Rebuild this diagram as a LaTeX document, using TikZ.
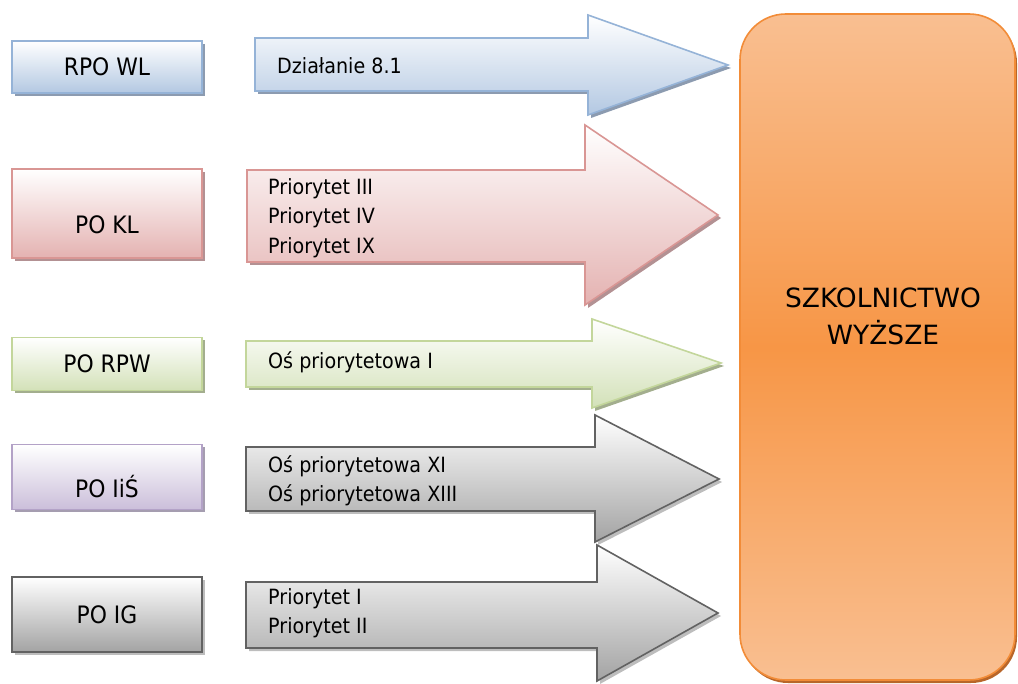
\documentclass[tikz,border=0pt]{standalone}
\usepackage{fontspec}
\setmainfont{DejaVu Sans}
\newfontfamily\tahoma{DejaVu Sans}[FakeStretch=0.91]
\usetikzlibrary{shadows}

\definecolor{blueline}{HTML}{95B3D7}
\definecolor{bluefill}{HTML}{B3C8E2}
\definecolor{blueshade}{HTML}{8C9BB0}
\definecolor{redline}{HTML}{D99694}
\definecolor{redfill}{HTML}{E4B2B1}
\definecolor{redshade}{HTML}{B39193}
\definecolor{greenline}{HTML}{C3D69B}
\definecolor{greenfill}{HTML}{D3E1B8}
\definecolor{greenshade}{HTML}{A3AE8E}
\definecolor{violetline}{HTML}{B3A2C7}
\definecolor{violetfill}{HTML}{CBBFDA}
\definecolor{violetshade}{HTML}{A59DB0}
\definecolor{grayline}{HTML}{626262}
\definecolor{grayfill}{HTML}{A3A3A3}
\definecolor{grayshade}{HTML}{BDBDBD}
\definecolor{orangeline}{HTML}{F28C38}
\definecolor{orangelight}{HTML}{F9BF91}
\definecolor{orangemid}{HTML}{F79646}
\definecolor{orangeshade}{HTML}{B8662A}

\begin{document}
\begin{tikzpicture}[x=1pt, y=-1pt,
        prog/.style={draw, line width=1.6pt, minimum width=190pt, inner sep=0pt, top color=white,
            font=\tahoma\fontsize{24}{28}\selectfont},
        low/.style={text height=40pt, text depth=0pt},
        flow/.style={line width=1.6pt, line join=miter},
        item/.style={anchor=west, align=left, inner sep=0pt, font=\tahoma\fontsize{21}{29.5}\selectfont},
        blue/.style={draw=blueline, bottom color=bluefill, top color=white,
            drop shadow={shadow xshift=3pt, shadow yshift=-3pt, fill=blueshade, opacity=1}},
        red/.style={draw=redline, bottom color=redfill, top color=white,
            drop shadow={shadow xshift=3pt, shadow yshift=-3pt, fill=redshade, opacity=1}},
        green/.style={draw=greenline, bottom color=greenfill, top color=white,
            drop shadow={shadow xshift=3pt, shadow yshift=-3pt, fill=greenshade, opacity=1}},
        violet/.style={draw=violetline, bottom color=violetfill, top color=white,
            drop shadow={shadow xshift=3pt, shadow yshift=-3pt, fill=violetshade, opacity=1}},
        grey/.style={draw=grayline, bottom color=grayfill, top color=white,
            drop shadow={shadow xshift=3pt, shadow yshift=-3pt, fill=grayshade, opacity=1}},
        target/.style={draw=orangeline, line width=1.6pt, rounded corners=46pt, minimum width=275pt, minimum height=666pt,
            top color=orangelight, bottom color=orangelight, middle color=orangemid,
            drop shadow={shadow xshift=2pt, shadow yshift=-3pt, fill=orangeshade, opacity=1}}
    ]
        \useasboundingbox (0,0) rectangle (1018,684);

        % Target (Absolute positioning)
        \node[target] (szk) at (877.5, 347) {};
        \node[font=\fontsize{26.5}{37}\selectfont, align=center] (szktext) at (883, 316) {SZKOLNICTWO\\WYŻSZE};

        % Programmes (Absolute positioning)
        \node[prog, blue, minimum height=52pt] (rpowl) at (107, 67) {RPO WL};
        \node[prog, red, low, minimum height=89pt] (pokl) at (107, 213.5) {PO KL};
        \node[prog, green, minimum height=53pt] (porpw) at (107, 364) {PO RPW};
        \node[prog, violet, low, minimum height=65pt] (poiis) at (107, 477) {PO IiŚ};
        \node[prog, grey, minimum height=75pt] (poig) at (107, 614.5) {PO IG};

        % Block arrows
        \draw[flow, blue] (255,38) -- (588,38) -- (588,15) -- (728,65) -- (588,115) -- (588,91) -- (255,91) -- cycle;
        \draw[flow, red] (247,170) -- (585,170) -- (585,125) -- (718,215) -- (585,305) -- (585,262) -- (247,262) -- cycle;
        \draw[flow, green] (246,341) -- (592,341) -- (592,319) -- (721,363) -- (592,408) -- (592,387) -- (246,387) -- cycle;
        \draw[flow, grey] (246,447) -- (595,447) -- (595,415) -- (719,479) -- (595,542) -- (595,511) -- (246,511) -- cycle;
        \draw[flow, grey] (246,582) -- (597,582) -- (597,545) -- (718,613) -- (597,681) -- (597,648) -- (246,648) -- cycle;

        % Priorities
        \node[item] (dz81) at (277, 66) {Działanie 8.1};
        \node[item] (prkl) at (268, 218) {Priorytet III\\Priorytet IV\\Priorytet IX};
        \node[item] (prrpw) at (268, 362) {Oś priorytetowa I};
        \node[item] (priis) at (268, 481) {Oś priorytetowa XI\\Oś priorytetowa XIII};
        \node[item] (prig) at (268, 613) {Priorytet I\\Priorytet II};

    \end{tikzpicture}
\end{document}
